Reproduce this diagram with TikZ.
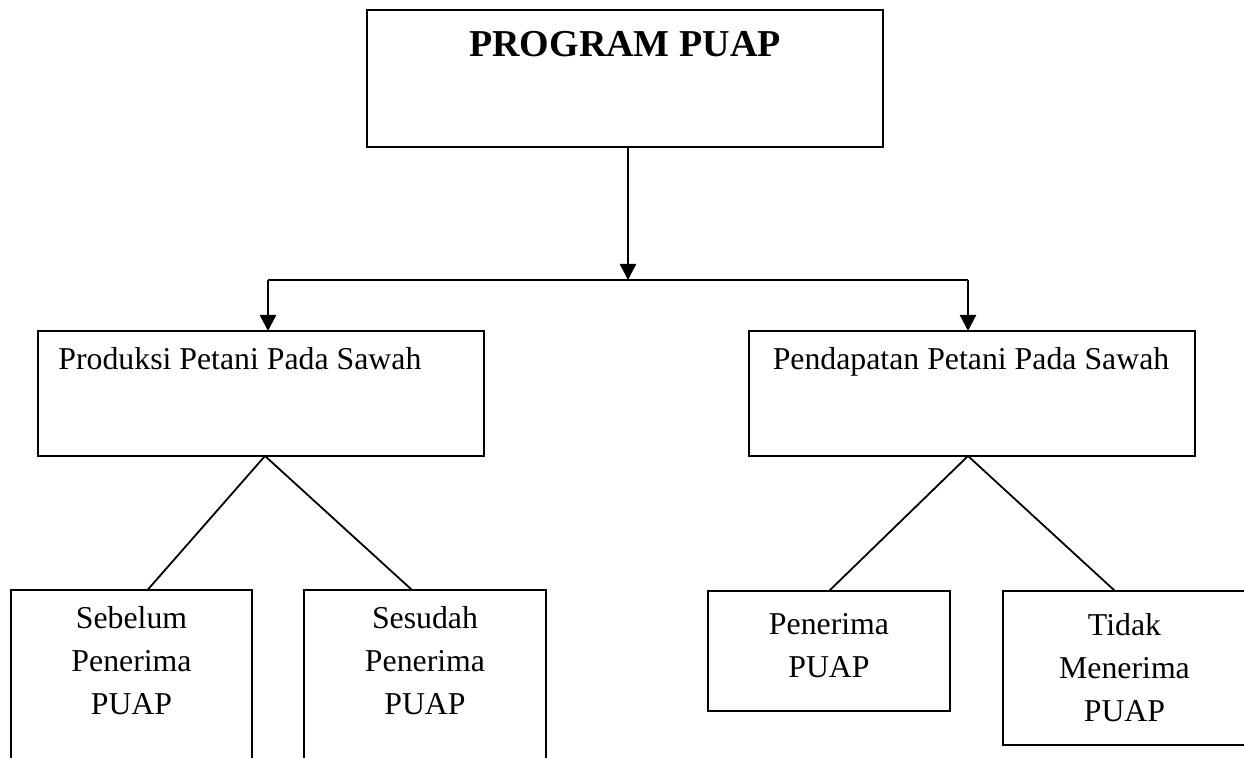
\documentclass[tikz,border=0pt]{standalone}
\usepackage{fontspec}
\setmainfont{Liberation Serif}
\usetikzlibrary{arrows.meta}

\begin{document}
\begin{tikzpicture}[x=0.5pt, y=-0.5pt,
  kotak/.style={draw, line width=1.2pt, inner sep=0pt, outer sep=0pt},
  isi/.style={inner sep=0pt, font=\fontsize{15.9}{21.5}\selectfont},
  panah/.style={line width=1.2pt, -{Triangle[length=8pt, width=8pt]}},
  garis/.style={line width=0.9pt}]

\clip (0,0) rectangle (1244,758);

% Top box
\node[kotak, minimum width=258pt, minimum height=68.5pt] (prog) at (625,78.5) {};
\node[isi, anchor=base, font=\bfseries\fontsize{19}{23}\selectfont] (judul) at (625,57) {PROGRAM PUAP};

% Branch
\coordinate (cabL) at (268,280);
\coordinate (cabR) at (968,280);
\draw[panah] ([xshift=1.5pt]prog.south) -- ([xshift=1.5pt]prog.south |- cabL);
\draw[line width=1.2pt] (cabL) -- (cabR);

% Middle boxes
\node[kotak, minimum width=223pt, minimum height=62.5pt] (prod) at (261,393.5) {};
\node[isi, anchor=base west] (prodtxt) at (58,370) {Produksi Petani Pada Sawah};
\node[kotak, minimum width=223pt, minimum height=62.5pt] (pend) at (972,393.5) {};
\node[isi, anchor=base] (pendtxt) at (971,370) {Pendapatan Petani Pada Sawah};

\draw[panah] (cabL) -- (cabL |- prod.north);
\draw[panah] (cabR) -- (cabR |- pend.north);

% Bottom boxes (base = last line)
\node[kotak, minimum width=120.5pt, minimum height=105pt] (seb) at (131.5,695) {};
\node[isi, align=center, anchor=base] (sebtxt) at (131.5,715) {Sebelum\\Penerima\\PUAP};
\node[kotak, minimum width=121pt, minimum height=105pt] (ses) at (425,695) {};
\node[isi, align=center, anchor=base] (sestxt) at (425,715) {Sesudah\\Penerima\\PUAP};
\node[kotak, minimum width=121pt, minimum height=60pt] (pen) at (829,651) {};
\node[isi, align=center, anchor=base] (pentxt) at (829,678) {Penerima\\PUAP};
\node[kotak, minimum width=121.5pt, minimum height=77pt] (tdk) at (1124.5,668) {};
\node[isi, align=center, anchor=base] (tdktxt) at (1124.5,722) {Tidak\\Menerima\\PUAP};

% Diagonal lines
\draw[garis] ([xshift=2pt]prod.south) -- ([xshift=8pt]seb.north);
\draw[garis] ([xshift=2pt]prod.south) -- ([xshift=-6.5pt]ses.north);
\draw[garis] ([xshift=-2pt]pend.south) -- (pen.north);
\draw[garis] ([xshift=-2pt]pend.south) -- ([xshift=-4.75pt]tdk.north);

\end{tikzpicture}
\end{document}
